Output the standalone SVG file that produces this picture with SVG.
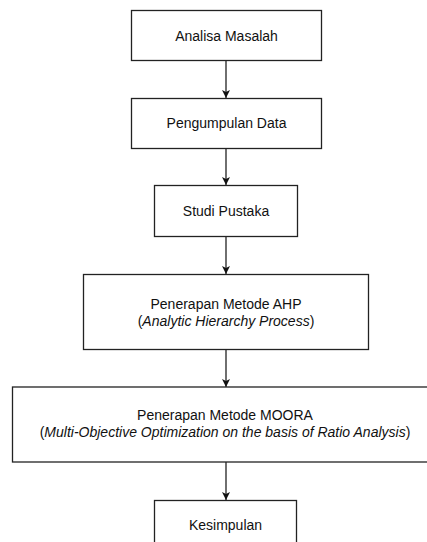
<svg xmlns="http://www.w3.org/2000/svg" width="427" height="542" viewBox="0 0 427 542">
<style>
.box{fill:#fff;stroke:#222;stroke-width:1.3}
.t{font-family:"Liberation Sans",Arial,sans-serif;font-size:14px;fill:#111;text-anchor:middle}
.i{font-style:italic}
.e{stroke:#222;stroke-width:1.3;fill:none;marker-end:url(#ah)}
</style>
<defs>
<marker id="ah" markerWidth="10" markerHeight="10" refX="8" refY="5" orient="auto" markerUnits="userSpaceOnUse">
<path d="M0,1 L8,5 L0,9 L2,5 Z" fill="#111"/>
</marker>
</defs>
<rect width="427" height="542" fill="#fff"/>
<g id="connectors">
<line class="e" x1="226" y1="60.5" x2="226" y2="98"/>
<line class="e" x1="226" y1="148.5" x2="226" y2="185"/>
<line class="e" x1="226" y1="236.5" x2="226" y2="274"/>
<line class="e" x1="226" y1="349.5" x2="226" y2="387"/>
<line class="e" x1="226" y1="462" x2="226" y2="500"/>
</g>
<g id="n1">
<rect class="box" x="131.5" y="10.5" width="190" height="50"/>
<text class="t" x="226.5" y="40.5">Analisa Masalah</text>
</g>
<g id="n2">
<rect class="box" x="131.5" y="98.5" width="190" height="50"/>
<text class="t" x="226.5" y="128">Pengumpulan Data</text>
</g>
<g id="n3">
<rect class="box" x="154.5" y="185.5" width="143" height="51"/>
<text class="t" x="226" y="216">Studi Pustaka</text>
</g>
<g id="n4">
<rect class="box" x="83.5" y="274.5" width="285" height="75"/>
<text class="t" x="226" y="309">Penerapan Metode AHP</text>
<text class="t" x="226" y="326">(<tspan class="i">Analytic Hierarchy Process</tspan>)</text>
</g>
<g id="n5">
<rect class="box" x="12.5" y="387" width="428" height="75"/>
<text class="t" x="225" y="420">Penerapan Metode MOORA</text>
<text class="t" x="225" y="437">(<tspan class="i">Multi-Objective Optimization on the basis of Ratio Analysis</tspan>)</text>
</g>
<g id="n6">
<rect class="box" x="154.5" y="500.5" width="142" height="50"/>
<text class="t" x="225.5" y="530">Kesimpulan</text>
</g>
</svg>
